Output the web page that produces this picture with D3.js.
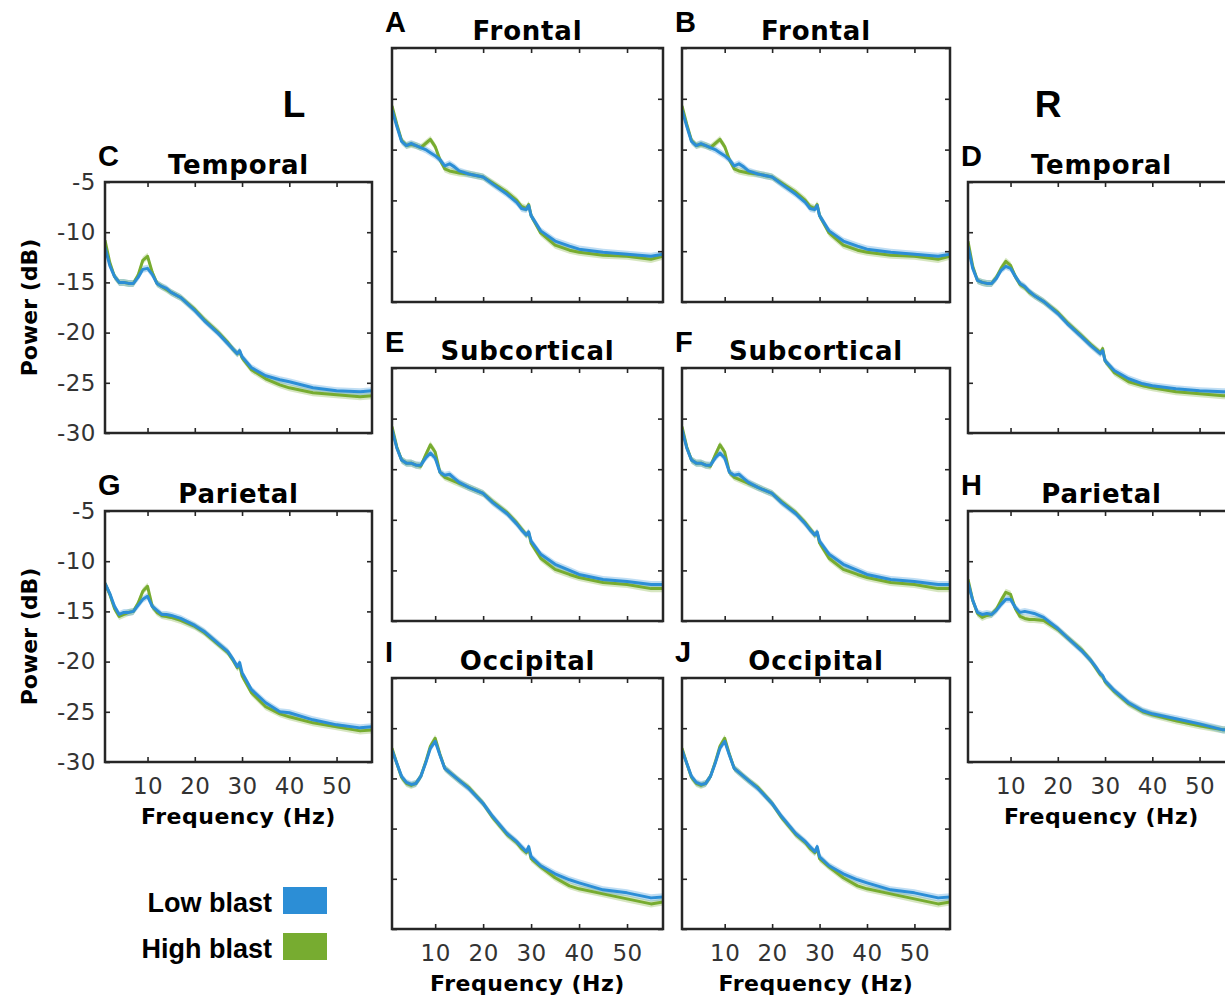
<!DOCTYPE html>
<html>
<head>
<meta charset="utf-8">
<script src="https://cdn.jsdelivr.net/npm/d3@7"></script>
<style>
  body { margin: 0; background: #fff; }
  svg { display: block; }
</style>
</head>
<body>
<svg></svg>
<script>
// frequency grid (Hz) the spectra were read at
const freqs = [1,2,3,4,5,6,7,8,9,10,11,12,13,14,15,17,20,22,25,27,28,29,29.5,30,32,35,38,40,45,50,55,57.5];

// power (dB), low blast vs high blast, per region
const frontalLow   = [-11.1,-12.7,-14.2,-14.6,-14.4,-14.6,-14.8,-15.0,-15.3,-15.6,-16.0,-16.6,-16.4,-16.7,-17.1,-17.4,-17.7,-18.4,-19.4,-20.2,-20.8,-20.9,-20.5,-21.5,-23.0,-24.0,-24.5,-24.8,-25.1,-25.3,-25.5,-25.3];
const frontalHigh  = [-10.7,-12.5,-14.1,-14.6,-14.5,-14.6,-14.8,-14.4,-14.0,-14.7,-16.0,-16.9,-17.1,-17.2,-17.3,-17.4,-17.7,-18.3,-19.2,-20.0,-20.6,-20.8,-20.4,-21.5,-23.2,-24.4,-24.9,-25.1,-25.4,-25.5,-25.8,-25.5];
const temporalLLow  = [-11.5,-13.3,-14.4,-15.0,-15.0,-15.1,-15.1,-14.5,-13.7,-13.6,-14.2,-15.1,-15.4,-15.6,-16.0,-16.5,-17.8,-18.8,-20.1,-21.1,-21.6,-22.1,-21.8,-22.4,-23.5,-24.3,-24.7,-24.9,-25.5,-25.8,-25.9,-25.8];
const temporalLHigh = [-10.8,-13.0,-14.4,-15.0,-15.0,-15.1,-15.1,-14.3,-12.8,-12.4,-14.0,-15.1,-15.4,-15.7,-16.0,-16.5,-17.7,-18.7,-20.0,-21.0,-21.6,-22.1,-21.9,-22.5,-23.7,-24.6,-25.2,-25.5,-26.0,-26.2,-26.4,-26.3];
const temporalRLow  = [-11.4,-13.6,-14.8,-15.0,-15.1,-15.1,-14.6,-13.8,-13.4,-13.6,-14.4,-15.1,-15.4,-15.9,-16.3,-16.9,-18.1,-19.1,-20.4,-21.3,-21.7,-22.1,-21.8,-22.8,-23.8,-24.6,-25.1,-25.3,-25.6,-25.8,-25.9,-25.9];
const temporalRHigh = [-10.9,-13.4,-14.8,-15.0,-15.1,-15.1,-14.5,-13.6,-12.9,-13.3,-14.4,-15.2,-15.5,-16.0,-16.3,-16.9,-18.0,-19.0,-20.3,-21.2,-21.6,-22.0,-21.6,-22.8,-24.0,-24.9,-25.3,-25.5,-25.9,-26.1,-26.3,-26.3];
const subcortLow   = [-11.1,-12.9,-14.1,-14.4,-14.4,-14.6,-14.6,-13.9,-13.4,-13.9,-15.3,-15.6,-15.5,-15.9,-16.3,-16.8,-17.4,-18.3,-19.4,-20.4,-21.0,-21.5,-21.2,-22.1,-23.4,-24.4,-25.0,-25.4,-25.9,-26.1,-26.4,-26.4];
const subcortHigh  = [-10.8,-12.8,-14.1,-14.4,-14.4,-14.6,-14.7,-13.6,-12.6,-13.3,-15.3,-15.8,-16.0,-16.2,-16.4,-16.8,-17.4,-18.2,-19.3,-20.3,-20.9,-21.5,-21.3,-22.3,-23.8,-24.9,-25.4,-25.7,-26.2,-26.4,-26.8,-26.8];
const parietalLLow  = [-12.2,-13.2,-14.5,-15.3,-15.1,-15.1,-15.0,-14.4,-13.8,-13.5,-14.5,-14.9,-15.3,-15.3,-15.4,-15.7,-16.4,-17.0,-18.2,-19.0,-19.7,-20.5,-20.1,-21.1,-22.8,-24.1,-25.0,-25.1,-25.8,-26.3,-26.6,-26.5];
const parietalLHigh = [-12.2,-13.3,-14.7,-15.5,-15.3,-15.1,-15.0,-14.2,-13.0,-12.5,-14.5,-15.1,-15.4,-15.5,-15.6,-15.9,-16.5,-17.1,-18.3,-19.1,-19.8,-20.6,-20.4,-21.4,-23.1,-24.5,-25.2,-25.5,-26.1,-26.5,-26.9,-26.8];
const parietalRLow  = [-12.1,-13.9,-15.1,-15.3,-15.2,-15.3,-14.9,-14.3,-13.8,-13.8,-14.6,-15.1,-15.0,-15.1,-15.2,-15.6,-16.7,-17.6,-18.9,-19.9,-20.5,-21.2,-21.4,-21.9,-22.9,-24.1,-24.9,-25.2,-25.7,-26.2,-26.8,-26.8];
const parietalRHigh = [-11.8,-13.9,-15.2,-15.6,-15.4,-15.3,-14.8,-13.9,-13.1,-13.3,-14.7,-15.5,-15.7,-15.8,-15.8,-15.9,-16.8,-17.6,-18.8,-19.9,-20.6,-21.3,-21.5,-22.0,-23.0,-24.2,-25.0,-25.3,-25.9,-26.4,-26.8,-26.8];
const occipLow     = [-12.2,-13.5,-14.8,-15.4,-15.6,-15.5,-14.8,-13.5,-12.0,-11.3,-12.7,-14.0,-14.4,-14.8,-15.2,-16.0,-17.5,-18.8,-20.5,-21.3,-21.8,-22.3,-21.8,-22.8,-23.7,-24.5,-25.1,-25.4,-26.1,-26.4,-26.9,-26.8];
const occipHigh    = [-12.0,-13.5,-14.9,-15.5,-15.7,-15.5,-14.8,-13.4,-11.8,-11.0,-12.6,-14.0,-14.4,-14.8,-15.2,-15.9,-17.5,-18.9,-20.6,-21.4,-22.0,-22.4,-22.0,-23.0,-23.8,-24.9,-25.7,-26.0,-26.5,-27.0,-27.5,-27.3];

const xTicks = [10, 20, 30, 40, 50];
const yTicks = [-5, -10, -15, -20, -25, -30];
const groups = ["Low blast", "High blast"];
const colors = {"Low blast": "#2c8ed6", "High blast": "#77ac30"};

let width = 1225;
let height = 1005;

let svg = d3.select("svg")
            .attr("width", width)
            .attr("height", height);

// layout of the ten panels
let panels = [
  {tag: "C", title: "Temporal",    x: 105, y: 182, w: 267, h: 251, low: temporalLLow, high: temporalLHigh, yLab: true,  xLab: false},
  {tag: "G", title: "Parietal",    x: 105, y: 511, w: 267, h: 251, low: parietalLLow, high: parietalLHigh, yLab: true,  xLab: true},
  {tag: "A", title: "Frontal",     x: 392, y: 48,  w: 271, h: 254, low: frontalLow,   high: frontalHigh,   yLab: false, xLab: false},
  {tag: "B", title: "Frontal",     x: 682, y: 48,  w: 268, h: 254, low: frontalLow,   high: frontalHigh,   yLab: false, xLab: false},
  {tag: "E", title: "Subcortical", x: 392, y: 368, w: 271, h: 253, low: subcortLow,   high: subcortHigh,   yLab: false, xLab: false},
  {tag: "F", title: "Subcortical", x: 682, y: 368, w: 268, h: 253, low: subcortLow,   high: subcortHigh,   yLab: false, xLab: false},
  {tag: "I", title: "Occipital",   x: 392, y: 678, w: 271, h: 251, low: occipLow,     high: occipHigh,     yLab: false, xLab: true},
  {tag: "J", title: "Occipital",   x: 682, y: 678, w: 268, h: 251, low: occipLow,     high: occipHigh,     yLab: false, xLab: true},
  {tag: "D", title: "Temporal",    x: 968, y: 182, w: 267, h: 251, low: temporalRLow, high: temporalRHigh, yLab: false, xLab: false},
  {tag: "H", title: "Parietal",    x: 968, y: 511, w: 267, h: 251, low: parietalRLow, high: parietalRHigh, yLab: false, xLab: true}
];

panels.forEach(drawPanel);

// hemisphere labels
svg.append("text")
   .attr("x", 294).attr("y", 117)
   .attr("text-anchor", "middle")
   .style("font-family", "'Liberation Sans', Arial, sans-serif")
   .style("font-weight", "bold")
   .style("font-size", "37px")
   .text("L");

svg.append("text")
   .attr("x", 1048).attr("y", 117)
   .attr("text-anchor", "middle")
   .style("font-family", "'Liberation Sans', Arial, sans-serif")
   .style("font-weight", "bold")
   .style("font-size", "37px")
   .text("R");

// legend
let legend = svg.selectAll(".legend")
                .data(groups)
                .enter()
                .append("g")
                .classed("legend", true)
                .attr("transform", (d, i) => `translate(0,${887 + i * 46})`);

legend.append("text")
      .attr("x", 272)
      .attr("y", 25)
      .attr("text-anchor", "end")
      .style("font-family", "'Liberation Sans', Arial, sans-serif")
      .style("font-weight", "bold")
      .style("font-size", "27px")
      .text(d => d);

legend.append("rect")
      .attr("x", 283)
      .attr("y", 0)
      .attr("width", 44)
      .attr("height", 27)
      .attr("fill", d => colors[d]);

function drawPanel(p, idx) {
  let xScale = d3.scaleLinear()
                 .domain([1, 57.5])
                 .range([0, p.w]);
  let yScale = d3.scaleLinear()
                 .domain([-30, -5])
                 .range([p.h, 0]);

  let g = svg.append("g")
             .attr("transform", `translate(${p.x},${p.y})`);

  let clipId = "clip" + idx;
  g.append("clipPath")
   .attr("id", clipId)
   .append("rect")
   .attr("width", p.w)
   .attr("height", p.h);

  let plot = g.append("g").attr("clip-path", `url(#${clipId})`);

  let series = [
    {name: "High blast", values: p.high},
    {name: "Low blast", values: p.low}
  ];

  let band = d3.area()
               .x((d, i) => xScale(freqs[i]))
               .y0(d => yScale(d - 0.35))
               .y1(d => yScale(d + 0.35));
  let line = d3.line()
               .x((d, i) => xScale(freqs[i]))
               .y(d => yScale(d));

  series.forEach(s => {
    plot.append("path")
        .attr("d", band(s.values))
        .attr("fill", colors[s.name])
        .attr("opacity", 0.3);
  });
  series.forEach(s => {
    plot.append("path")
        .attr("d", line(s.values))
        .attr("fill", "none")
        .attr("stroke", colors[s.name])
        .attr("stroke-width", 3)
        .attr("stroke-linejoin", "round");
  });

  // inward ticks on all four sides
  g.append("g")
   .attr("transform", `translate(0,${p.h})`)
   .call(d3.axisBottom(xScale).tickValues(xTicks).tickSize(-5).tickPadding(16)
           .tickFormat(p.xLab ? d => d : ""));
  g.append("g")
   .call(d3.axisTop(xScale).tickValues(xTicks).tickSize(-5).tickFormat(""));
  g.append("g")
   .call(d3.axisLeft(yScale).tickValues(yTicks).tickSize(-5).tickPadding(9)
           .tickFormat(p.yLab ? d => d : ""));
  g.append("g")
   .attr("transform", `translate(${p.w},0)`)
   .call(d3.axisRight(yScale).tickValues(yTicks).tickSize(-5).tickFormat(""));

  g.selectAll(".domain").remove();
  g.selectAll(".tick line")
   .attr("stroke", "#262626")
   .attr("stroke-width", 1.6);
  g.selectAll(".tick text")
   .attr("fill", "#333")
   .style("font-family", "'DejaVu Sans', sans-serif")
   .style("font-size", "23px")
   .style("letter-spacing", "0.5px");

  // box
  g.append("rect")
   .attr("width", p.w)
   .attr("height", p.h)
   .attr("fill", "none")
   .attr("stroke", "#262626")
   .attr("stroke-width", 2.5);

  // title and panel letter
  g.append("text")
   .attr("x", p.w / 2)
   .attr("y", -8)
   .attr("text-anchor", "middle")
   .style("font-family", "'DejaVu Sans', sans-serif")
   .style("font-weight", "bold")
   .style("font-size", "26px")
   .style("letter-spacing", "0.8px")
   .text(p.title);

  g.append("text")
   .attr("x", -7)
   .attr("y", -16)
   .style("font-family", "'Liberation Sans', Arial, sans-serif")
   .style("font-weight", "bold")
   .style("font-size", "29px")
   .text(p.tag);

  if (p.yLab) {
    g.append("text")
     .attr("transform", `translate(${37 - p.x},${p.h / 2}) rotate(-90)`)
     .attr("text-anchor", "middle")
     .style("font-family", "'DejaVu Sans', sans-serif")
     .style("font-weight", "bold")
     .style("font-size", "22px")
     .text("Power (dB)");
  }

  if (p.xLab) {
    g.append("text")
     .attr("x", p.w / 2)
     .attr("y", p.h + 62)
     .attr("text-anchor", "middle")
     .style("font-family", "'DejaVu Sans', sans-serif")
     .style("font-weight", "bold")
     .style("font-size", "22px")
     .style("letter-spacing", "0.5px")
     .text("Frequency (Hz)");
  }
}
</script>
</body>
</html>
